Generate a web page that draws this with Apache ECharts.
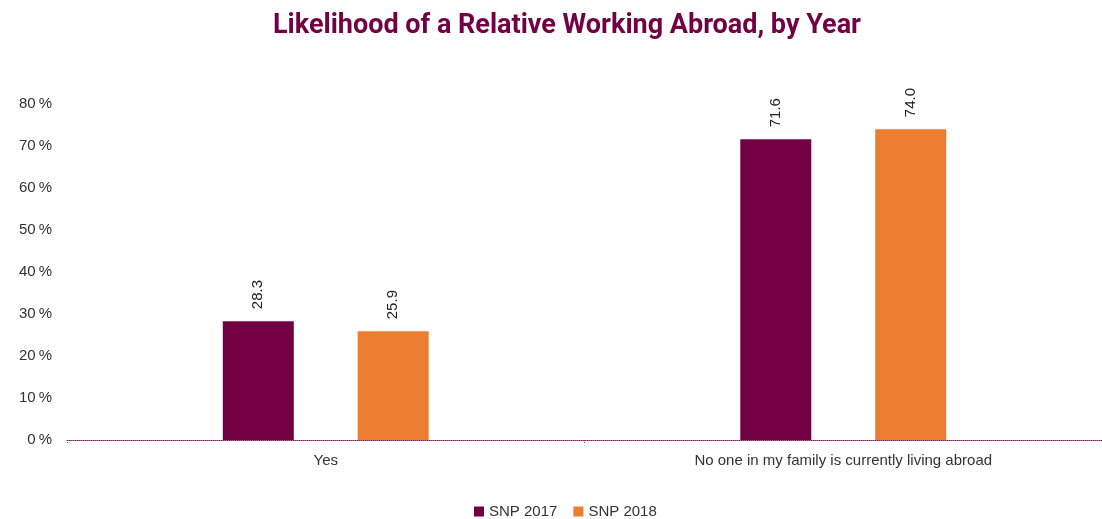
<!DOCTYPE html>
<html><head><meta charset="utf-8">
<script src="https://cdn.jsdelivr.net/npm/echarts@6/dist/echarts.min.js"></script>
<style>html,body{margin:0;padding:0;background:#fff}#c{width:1102px;height:519px}</style>
</head><body><div id="c"></div>
<script>
const categories = ['Yes', 'No one in my family is currently living abroad'];
const seriesNames = ['SNP 2017', 'SNP 2018'];
const snp2017 = [28.3, 71.6];
const snp2018 = [25.9, 74.0];
const colors = ['#720042', '#ED7D31'];

const FONT = 'Liberation Sans, Arial, sans-serif';
const chart = echarts.init(document.getElementById('c'));
const label = {
  show: true, position: 'top', rotate: 90, align: 'left', verticalAlign: 'middle',
  distance: 12, color: '#222', fontSize: 15, fontFamily: FONT,
  formatter: p => p.value.toFixed(1)
};
chart.setOption({
  animation: false,
  title: {
    text: 'Likelihood of a Relative Working Abroad, by Year',
    left: 268, top: 8,
    textStyle: { color: '#720042', fontSize: 27, fontWeight: 'bold', fontFamily: 'Roboto, sans-serif' }
  },
  legend: {
    data: seriesNames, left: 469, bottom: -5, itemWidth: 10, itemHeight: 10, itemGap: 16,
    icon: 'rect', textStyle: { color: '#333', fontSize: 15, fontFamily: FONT }
  },
  grid: { left: 67, top: 104, right: 0, bottom: 79, containLabel: false },
  xAxis: {
    type: 'category', data: categories,
    axisLine: { lineStyle: { color: '#8B1A5A', type: [1, 1], width: 1 } },
    axisTick: { show: true, length: 4, lineStyle: { color: '#8B1A5A', type: [1, 1] } },
    axisLabel: { color: '#333', fontSize: 15, margin: 13, fontFamily: FONT }
  },
  yAxis: {
    type: 'value', min: 0, max: 80, interval: 10,
    splitLine: { show: false }, axisLine: { show: false }, axisTick: { show: false },
    axisLabel: { formatter: v => v + '\u2009%', color: '#333', fontSize: 15, margin: 15, fontFamily: FONT }
  },
  series: [
    { name: seriesNames[0], type: 'bar', data: snp2017, barWidth: 71, barGap: '90%', itemStyle: { color: colors[0] }, label },
    { name: seriesNames[1], type: 'bar', data: snp2018, barWidth: 71, barGap: '90%', itemStyle: { color: colors[1] }, label }
  ]
});
</script></body></html>
